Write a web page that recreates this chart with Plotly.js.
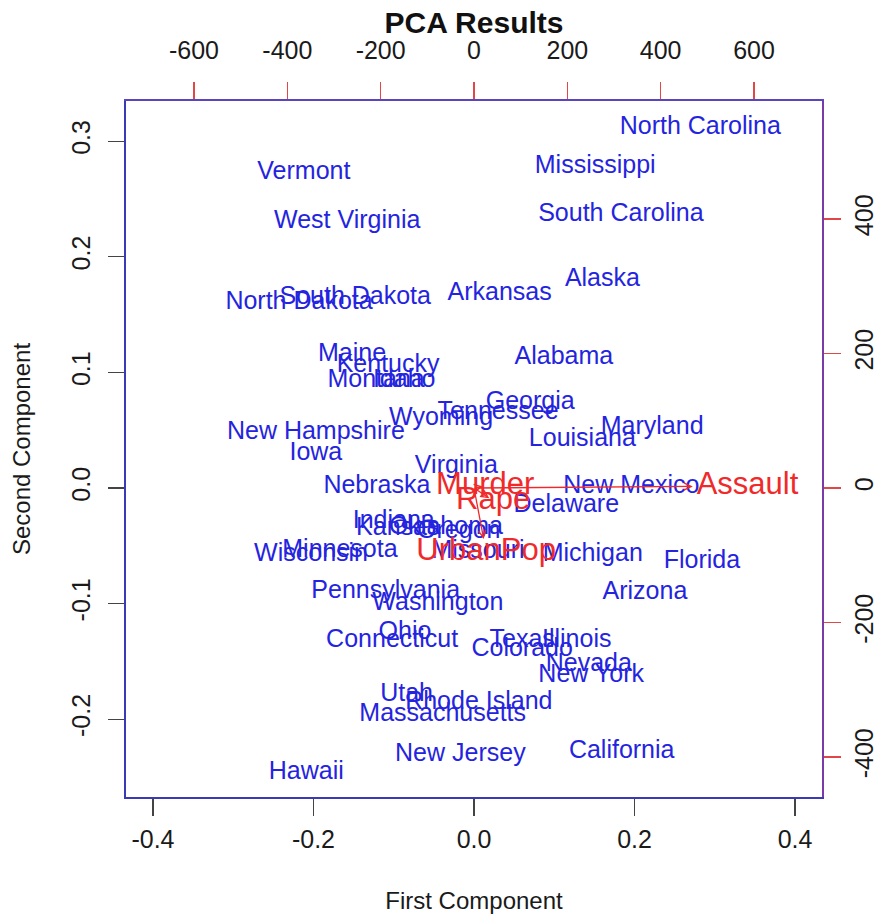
<!DOCTYPE html>
<html>
<head>
<meta charset="utf-8">
<script src="https://cdn.plot.ly/plotly-3.0.1.min.js"></script>
<style>html,body{margin:0;padding:0;background:#fff;}#chart{width:878px;height:917px;}</style>
</head>
<body>
<div id="chart"></div>
<script>
// State scores (first and second principal component, scaled)
const states = ["Alabama","Alaska","Arizona","Arkansas","California","Colorado","Connecticut","Delaware","Florida","Georgia",
  "Hawaii","Idaho","Illinois","Indiana","Iowa","Kansas","Kentucky","Louisiana","Maine","Maryland",
  "Massachusetts","Michigan","Minnesota","Mississippi","Missouri","Montana","Nebraska","Nevada","New Hampshire","New Jersey",
  "New Mexico","New York","North Carolina","North Dakota","Ohio","Oklahoma","Oregon","Pennsylvania","Rhode Island","South Carolina",
  "South Dakota","Tennessee","Texas","Utah","Vermont","Virginia","Washington","West Virginia","Wisconsin","Wyoming"];
const pc1 = [0.112, 0.160, 0.213, 0.032, 0.184, 0.060, -0.102, 0.115, 0.284, 0.070,
  -0.209, -0.087, 0.128, -0.100, -0.197, -0.095, -0.107, 0.135, -0.152, 0.222,
  -0.039, 0.148, -0.167, 0.151, 0.005, -0.122, -0.121, 0.143, -0.197, -0.017,
  0.196, 0.146, 0.282, -0.218, -0.086, -0.035, -0.019, -0.110, 0.006, 0.183,
  -0.148, 0.030, 0.060, -0.084, -0.212, -0.022, -0.045, -0.158, -0.203, -0.041];
const pc2 = [0.113, 0.180, -0.091, 0.168, -0.228, -0.140, -0.132, -0.015, -0.064, 0.074,
  -0.246, 0.093, -0.132, -0.029, 0.030, -0.035, 0.106, 0.042, 0.115, 0.052,
  -0.196, -0.058, -0.054, 0.278, -0.055, 0.093, 0.001, -0.153, 0.048, -0.231,
  0.001, -0.162, 0.312, 0.160, -0.125, -0.034, -0.038, -0.090, -0.186, 0.236,
  0.165, 0.065, -0.132, -0.179, 0.273, 0.018, -0.100, 0.230, -0.058, 0.060];

// Variable loadings (top / right axes scale)
const varNames = ["Murder","Assault","UrbanPop","Rape"];
const loadPC1 = [24, 586, 26, 41];
const loadPC2 = [3, 3, -95, -19];
const arrowScale = 0.8;

// Axis ticks
const xTicks = [-0.4, -0.2, 0, 0.2, 0.4];
const xTickText = ["-0.4", "-0.2", "0.0", "0.2", "0.4"];
const yTicks = [-0.2, -0.1, 0, 0.1, 0.2, 0.3];
const yTickText = ["-0.2", "-0.1", "0.0", "0.1", "0.2", "0.3"];
const topTicks = [-600, -400, -200, 0, 200, 400, 600];
const topTickText = ["-600", "-400", "-200", "0", "200", "400", "600"];
const rightTicks = [-400, -200, 0, 200, 400];
const rightTickText = ["-400", "-200", "0", "200", "400"];

const FONT = "Liberation Sans, Arial, Helvetica, sans-serif";
const BLUE = "#2424e0";
const RED = "#f02a2a";
const BOX = "#3a3ab4";

const traces = [
  {
    type: "scatter", mode: "text", x: pc1, y: pc2, text: states,
    textposition: "middle center", cliponaxis: false,
    textfont: {family: FONT, size: 25, color: BLUE},
    xaxis: "x", yaxis: "y", hoverinfo: "text", showlegend: false
  },
  {
    type: "scatter", mode: "text", x: loadPC1, y: loadPC2, text: varNames,
    textposition: "middle center", cliponaxis: false,
    textfont: {family: FONT, size: 31, color: RED},
    xaxis: "x2", yaxis: "y2", hoverinfo: "text", showlegend: false
  }
];

const annotations = varNames.map((v, i) => ({
  xref: "x2", yref: "y2", axref: "x2", ayref: "y2",
  x: loadPC1[i] * arrowScale, y: loadPC2[i] * arrowScale, ax: 0, ay: 0,
  text: "", showarrow: true, arrowhead: 5, arrowsize: 1.1, arrowwidth: 1.3,
  arrowcolor: RED, standoff: 0, startstandoff: 0
}));

const layout = {
  width: 878, height: 917,
  margin: {l: 126, r: 56, t: 101, b: 120, pad: 0},
  paper_bgcolor: "#ffffff", plot_bgcolor: "#ffffff",
  font: {family: FONT, size: 25, color: "#1a1a1a"},
  showlegend: false,
  title: {
    text: "<b>PCA Results</b>", font: {family: FONT, size: 30, color: "#111"},
    x: 0.5, xref: "paper", xanchor: "center",
    y: 1 - 22 / 917, yref: "container", yanchor: "middle"
  },
  xaxis: {
    range: [-0.4336, 0.4336], tickmode: "array", tickvals: xTicks, ticktext: xTickText,
    ticks: "outside", ticklen: 17, tickwidth: 1.3, tickcolor: "#444",
    ticklabelstandoff: 2,
    showline: true, linecolor: BOX, linewidth: 2, mirror: true,
    showgrid: false, zeroline: false,
    tickfont: {family: FONT, size: 25, color: "#1a1a1a"},
    title: {text: "First Component", font: {family: FONT, size: 24, color: "#1a1a1a"}, standoff: 40}
  },
  yaxis: {
    range: [-0.2673, 0.3348], tickmode: "array", tickvals: yTicks, ticktext: yTickText,
    ticks: "outside", ticklen: 16, tickwidth: 1.3, tickcolor: "#444",
    tickangle: -90, ticklabelstandoff: 8,
    showline: true, linecolor: BOX, linewidth: 2, mirror: true,
    showgrid: false, zeroline: false,
    tickfont: {family: FONT, size: 25, color: "#1a1a1a"},
    title: {text: "Second Component", font: {family: FONT, size: 24, color: "#1a1a1a"}, standoff: 30}
  },
  xaxis2: {
    overlaying: "x", side: "top", anchor: "y",
    range: [-745.7, 745.7], tickmode: "array", tickvals: topTicks, ticktext: topTickText,
    ticks: "outside", ticklen: 17, tickwidth: 1.3, tickcolor: "#e04848",
    ticklabelstandoff: 13,
    showline: true, linecolor: "#5a44c0", linewidth: 2,
    showgrid: false, zeroline: false,
    tickfont: {family: FONT, size: 25, color: "#1a1a1a"}
  },
  yaxis2: {
    overlaying: "y", side: "right", anchor: "x",
    range: [-459.5, 575.5], tickmode: "array", tickvals: rightTicks, ticktext: rightTickText,
    ticks: "outside", ticklen: 17, tickwidth: 1.3, tickcolor: "#e04848",
    tickangle: -90, ticklabelstandoff: 2,
    showline: true, linecolor: "#7a3aa8", linewidth: 2,
    showgrid: false, zeroline: false,
    tickfont: {family: FONT, size: 25, color: "#1a1a1a"}
  },
  annotations: annotations
};

Plotly.newPlot("chart", traces, layout, {staticPlot: true, displayModeBar: false});
</script>
</body>
</html>
